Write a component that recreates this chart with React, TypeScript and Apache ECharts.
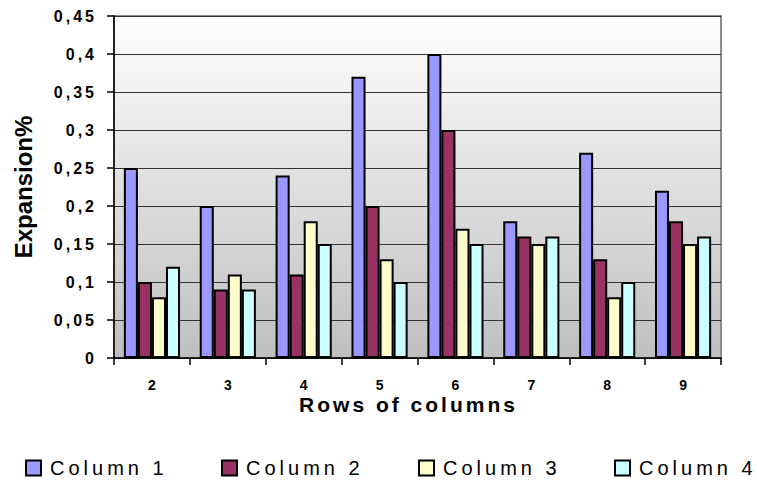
import React, { useEffect, useRef } from "react";
import * as echarts from "echarts";

// Rows of columns (x categories)
const categories = ["2", "3", "4", "5", "6", "7", "8", "9"];

// Expansion% per column, one value per row count
const column1 = [0.25, 0.2, 0.24, 0.37, 0.4, 0.18, 0.27, 0.22];
const column2 = [0.1, 0.09, 0.11, 0.2, 0.3, 0.16, 0.13, 0.18];
const column3 = [0.08, 0.11, 0.18, 0.13, 0.17, 0.15, 0.08, 0.15];
const column4 = [0.12, 0.09, 0.15, 0.1, 0.15, 0.16, 0.1, 0.16];

const seriesNames = ["Column 1", "Column 2", "Column 3", "Column 4"];
const seriesValues = [column1, column2, column3, column4];
const seriesColors = ["#9999FF", "#993366", "#FFFFCC", "#CCFFFF"];

const FONT = "'Liberation Sans', Arial, Helvetica, sans-serif";

const formatTick = (v: number) => String(+v.toFixed(2)).replace(".", ",");

// letter spacing (px) for texts drawn in the spaced style
function spacingFor(text: string): number {
  if (seriesNames.includes(text)) return 4;
  if (text === "Rows of columns") return 3;
  if (/^0(,\d+)?$/.test(text)) return 3;
  return 0;
}

function applySpacing(root: HTMLElement) {
  root.querySelectorAll("text").forEach((el) => {
    const s = spacingFor((el.textContent || "").trim());
    if (s > 0) el.setAttribute("letter-spacing", String(s));
  });
}

export default function App() {
  const ref = useRef<HTMLDivElement>(null);

  useEffect(() => {
    document.body.style.margin = "0";
    if (!ref.current) return;
    const chart = echarts.init(ref.current, undefined, { renderer: "svg" });

    const legendLefts = [25, 221, 418, 614];

    chart.setOption({
      animation: false,
      backgroundColor: "#ffffff",
      textStyle: { fontFamily: FONT },
      grid: {
        left: 114,
        top: 16,
        right: 36,
        bottom: 124,
        show: true,
        borderColor: "#8c8c8c",
        borderWidth: 2,
        backgroundColor: new echarts.graphic.LinearGradient(0, 0, 0, 1, [
          { offset: 0, color: "#ffffff" },
          { offset: 1, color: "#bfbfbf" },
        ]),
      },
      legend: seriesNames.map((name, i) => ({
        data: [name],
        left: legendLefts[i],
        top: 458,
        padding: 0,
        icon: "rect",
        itemWidth: 15,
        itemHeight: 15,
        selectedMode: false,
        itemStyle: { borderColor: "#000", borderWidth: 2 },
        textStyle: {
          fontFamily: FONT,
          fontSize: 20,
          color: "#000",
          padding: [0, 30, 0, 4],
        },
      })),
      xAxis: {
        type: "category",
        data: categories,
        name: "Rows of columns",
        nameLocation: "middle",
        nameGap: 36,
        nameMoveOverlap: false,
        nameTextStyle: {
          fontFamily: FONT,
          fontSize: 21,
          fontWeight: "bold",
          color: "#000",
          padding: [0, 18, 0, 0],
        },
        axisLine: { show: true, lineStyle: { color: "#000", width: 1.5 } },
        axisTick: { show: true, length: 7, lineStyle: { color: "#000", width: 1.5 } },
        axisLabel: {
          fontFamily: FONT,
          fontSize: 14,
          fontWeight: "bold",
          color: "#000",
          margin: 20,
        },
        splitLine: { show: false },
      },
      yAxis: {
        type: "value",
        min: 0,
        max: 0.45,
        interval: 0.05,
        name: "Expansion%",
        nameLocation: "middle",
        nameRotate: 90,
        nameGap: 79,
        nameTextStyle: {
          fontFamily: FONT,
          fontSize: 24,
          fontWeight: "bold",
          color: "#000",
        },
        axisLine: { show: true, lineStyle: { color: "#000", width: 1.5 } },
        axisTick: { show: true, length: 7, lineStyle: { color: "#000", width: 1.5 } },
        axisLabel: {
          fontFamily: FONT,
          fontSize: 16,
          fontWeight: "bold",
          color: "#000",
          margin: 17,
          formatter: formatTick,
        },
        splitLine: { show: true, lineStyle: { color: "#333", width: 1 } },
      },
      series: seriesNames.map((name, i) => ({
        name,
        type: "bar",
        data: seriesValues[i],
        barGap: "0%",
        barCategoryGap: "26%",
        itemStyle: { color: seriesColors[i], borderColor: "#000", borderWidth: 2 },
      })),
    });

    const root = ref.current;
    applySpacing(root);
    chart.on("finished", () => applySpacing(root));

    return () => {
      chart.dispose();
    };
  }, []);

  return (
    <div
      ref={ref}
      style={{ position: "fixed", left: 0, top: 0, width: 757, height: 482 }}
    />
  );
}
